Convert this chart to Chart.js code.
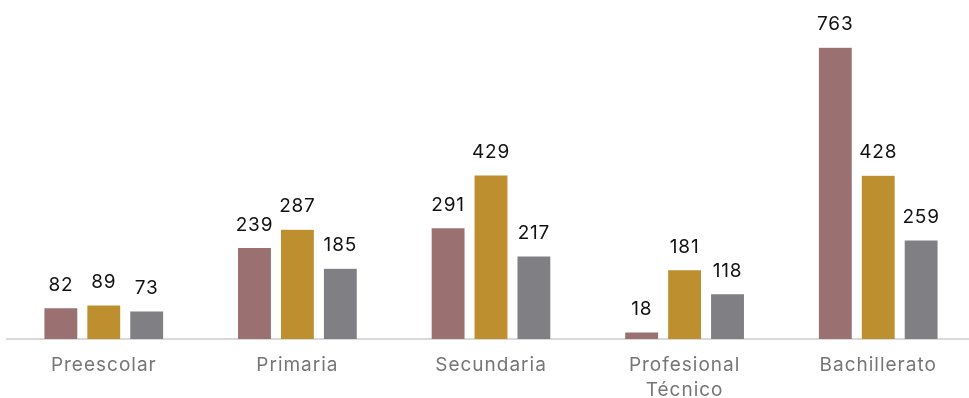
<!DOCTYPE html>
<html>
<head>
<meta charset="utf-8">
<script src="https://cdn.jsdelivr.net/npm/chart.js@4.4.0/dist/chart.umd.min.js"></script>
<style>
  html, body { margin: 0; padding: 0; background: #fff; overflow: hidden; }
  #wrap { position: relative; width: 976px; height: 398px; }
</style>
</head>
<body>
<div id="wrap"><canvas id="chart"></canvas></div>
<script>
// categorías y series
const categories = ['Preescolar', 'Primaria', 'Secundaria', ['Profesional', 'Técnico'], 'Bachillerato'];
const serieA = [82, 239, 291, 18, 763];
const serieB = [89, 287, 429, 181, 428];
const serieC = [73, 185, 217, 118, 259];

const colors = ['#9a7070', '#bd8f2f', '#808084'];

// espaciado de letras (la fuente original es más ancha)
const spacing = {
  id: 'spacing',
  beforeDraw(chart) { chart.ctx.letterSpacing = '1px'; }
};

// etiquetas de valor encima de cada barra
const valueLabels = {
  id: 'valueLabels',
  afterDatasetsDraw(chart) {
    const ctx = chart.ctx;
    ctx.save();
    ctx.letterSpacing = '0.8px';
    ctx.font = '19px Inter, "Open Sans", sans-serif';
    ctx.fillStyle = '#111';
    ctx.textAlign = 'center';
    ctx.textBaseline = 'alphabetic';
    chart.data.datasets.forEach((ds, i) => {
      chart.getDatasetMeta(i).data.forEach((bar, j) => {
        ctx.fillText(ds.data[j], bar.x, bar.y - 17);
      });
    });
    ctx.restore();
  }
};

new Chart(document.getElementById('chart'), {
  type: 'bar',
  data: {
    labels: categories,
    datasets: [
      { data: serieA, backgroundColor: colors[0] },
      { data: serieB, backgroundColor: colors[1] },
      { data: serieC, backgroundColor: colors[2] }
    ].map(d => ({ ...d, borderColor: 'rgba(255,255,255,0.35)', borderWidth: 0.5, barPercentage: 0.79, categoryPercentage: 0.665 }))
  },
  options: {
    responsive: true,
    maintainAspectRatio: false,
    animation: false,
    layout: { padding: { left: 7, right: 1, top: 33, bottom: 0 } },
    plugins: { legend: { display: false }, tooltip: { enabled: false } },
    scales: {
      x: {
        grid: { display: false, drawTicks: false },
        border: { color: '#d9d9d9', width: 2 },
        ticks: { color: '#767676', font: { size: 19, family: 'Inter, "Open Sans", sans-serif', lineHeight: 1.3 }, padding: 14, maxRotation: 0, autoSkip: false },
        afterFit(axis) { axis.height = 59; }
      },
      y: { display: false, min: 0, max: 800 }
    }
  },
  plugins: [spacing, valueLabels]
});
</script>
</body>
</html>
